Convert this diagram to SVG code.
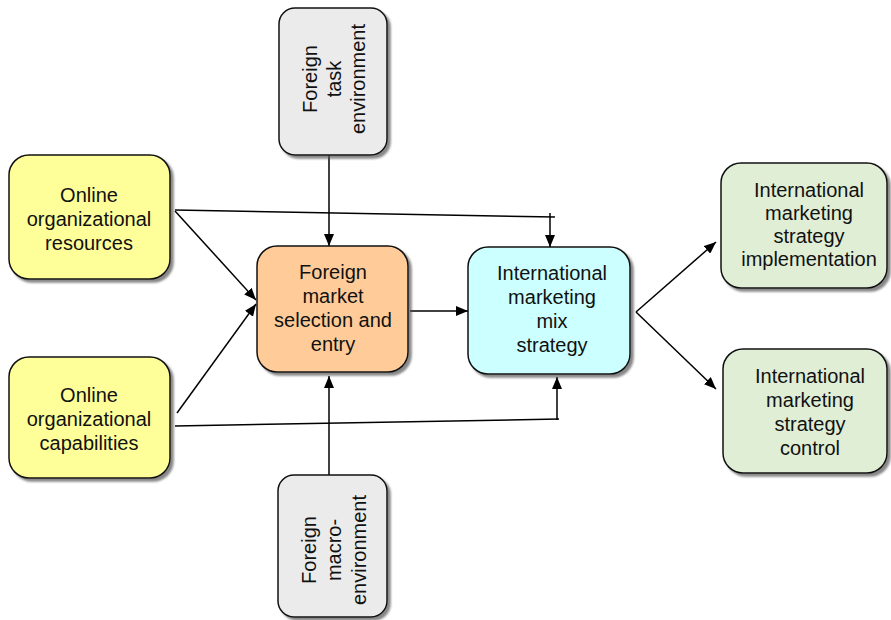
<svg xmlns="http://www.w3.org/2000/svg" width="891" height="620" viewBox="0 0 891 620">
<defs>
<filter id="sh" x="-10%" y="-10%" width="130%" height="130%">
<feDropShadow dx="3" dy="3" stdDeviation="1.2" flood-color="#555" flood-opacity="0.7"/>
</filter>
<marker id="ah" viewBox="0 0 12 10" refX="12" refY="5" markerWidth="12" markerHeight="10" markerUnits="userSpaceOnUse" orient="auto">
<path d="M0,0 L12,5 L0,10 Z" fill="#000"/>
</marker>
</defs>
<style>
.box{stroke:#111;stroke-width:1.5;filter:url(#sh)}
.t{font-family:"Liberation Sans",Arial,sans-serif;font-size:20px;fill:#111;text-anchor:middle}
.c{fill:none;stroke:#000;stroke-width:1.5}
.a{marker-end:url(#ah)}
</style>
<g id="connectors">
<line class="c" x1="175" y1="210" x2="555" y2="217"/>
<line class="c a" x1="550" y1="213" x2="550" y2="247"/>
<line class="c a" x1="175" y1="211" x2="256" y2="300"/>
<line class="c a" x1="177" y1="413" x2="256" y2="304"/>
<line class="c" x1="175" y1="426" x2="559" y2="419"/>
<line class="c a" x1="557" y1="420" x2="557" y2="377"/>
<line class="c a" x1="329" y1="155" x2="329" y2="246"/>
<line class="c a" x1="329" y1="475" x2="329" y2="376"/>
<line class="c a" x1="410" y1="311" x2="468" y2="311"/>
<line class="c a" x1="636" y1="312" x2="716" y2="242"/>
<line class="c a" x1="636" y1="312" x2="716" y2="389"/>
</g>
<g id="online-resources">
<rect class="box" x="9" y="155" width="161" height="124" rx="20" fill="#FFFF99"/>
<text class="t" x="89" y="202">Online</text>
<text class="t" x="89" y="226">organizational</text>
<text class="t" x="89" y="250">resources</text>
</g>
<g id="online-capabilities">
<rect class="box" x="9" y="357" width="161" height="121" rx="20" fill="#FFFF99"/>
<text class="t" x="89" y="402">Online</text>
<text class="t" x="89" y="426">organizational</text>
<text class="t" x="89" y="450">capabilities</text>
</g>
<g id="task-environment">
<rect class="box" x="279" y="8" width="108" height="147" rx="16" fill="#EBEBEB"/>
<g transform="translate(340,79) rotate(-90)">
<text class="t" x="0" y="-23">Foreign</text>
<text class="t" x="0" y="1">task</text>
<text class="t" x="0" y="25">environment</text>
</g>
</g>
<g id="macro-environment">
<rect class="box" x="278" y="475" width="109" height="142" rx="16" fill="#EBEBEB"/>
<g transform="translate(340,550) rotate(-90)">
<text class="t" x="0" y="-24">Foreign</text>
<text class="t" x="0" y="1">macro-</text>
<text class="t" x="0" y="26">environment</text>
</g>
</g>
<g id="market-selection">
<rect class="box" x="257" y="246" width="151" height="126" rx="20" fill="#FFCC99"/>
<text class="t" x="333" y="279">Foreign</text>
<text class="t" x="333" y="303">market</text>
<text class="t" x="333" y="327">selection and</text>
<text class="t" x="333" y="351">entry</text>
</g>
<g id="marketing-mix">
<rect class="box" x="468" y="247" width="162" height="127" rx="20" fill="#CCFFFF"/>
<text class="t" x="552" y="280">International</text>
<text class="t" x="552" y="304">marketing</text>
<text class="t" x="552" y="328">mix</text>
<text class="t" x="552" y="352">strategy</text>
</g>
<g id="implementation">
<rect class="box" x="721" y="163" width="166" height="125" rx="20" fill="#E0EED6"/>
<text class="t" x="809" y="197">International</text>
<text class="t" x="809" y="220">marketing</text>
<text class="t" x="809" y="243">strategy</text>
<text class="t" x="809" y="266">implementation</text>
</g>
<g id="control">
<rect class="box" x="723" y="349" width="164" height="124" rx="20" fill="#E0EED6"/>
<text class="t" x="810" y="383">International</text>
<text class="t" x="810" y="407">marketing</text>
<text class="t" x="810" y="431">strategy</text>
<text class="t" x="810" y="455">control</text>
</g>
</svg>
